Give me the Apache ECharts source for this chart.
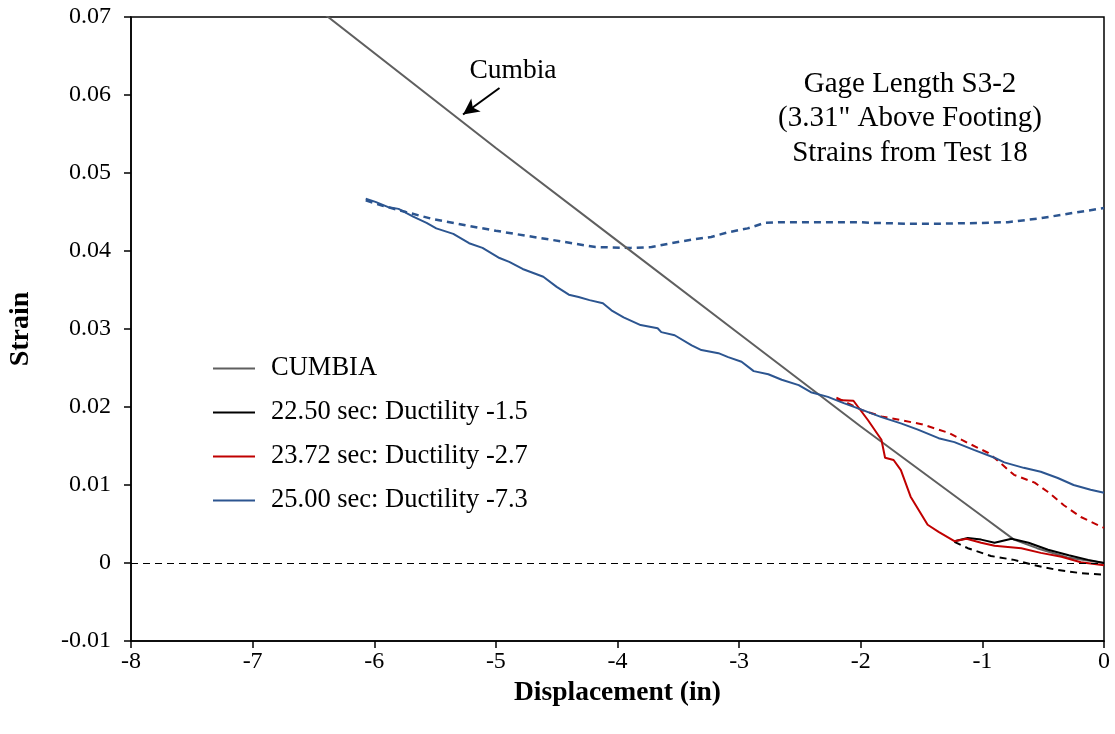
<!DOCTYPE html>
<html>
<head>
<meta charset="utf-8">
<script src="https://cdn.jsdelivr.net/npm/echarts@6/dist/echarts.min.js"></script>
<style>
html,body{margin:0;padding:0;background:#fff;}
#chart{width:1115px;height:734px;}
</style>
</head>
<body>
<div id="chart"></div>
<script>
// ---- data ----
const xTicks = [-8, -7, -6, -5, -4, -3, -2, -1, 0];
const yTicks = [-0.01, 0, 0.01, 0.02, 0.03, 0.04, 0.05, 0.06, 0.07];

const cumbia = [[-6.42,0.0705],[-5,0.0532],[-4,0.0413],[-3,0.0294],[-2,0.0175],[-1,0.0060],[-0.74,0.0030],[-0.55,0.0019],[-0.3,0.0007],[0,0]];

const black225Solid = [[-1.23,0.0028],[-1.12,0.0032],[-1.01,0.0030],[-0.90,0.0026],[-0.76,0.0031],[-0.62,0.0026],[-0.46,0.0017],[-0.29,0.0010],[-0.13,0.0004],[0,0.0000]];
const black225Dash = [[-1.23,0.0027],[-1.12,0.0019],[-0.93,0.0009],[-0.74,0.0004],[-0.57,-0.0003],[-0.38,-0.0009],[-0.19,-0.0013],[0,-0.0015]];

const red2372Solid = [[-2.20,0.0209],[-2.06,0.0208],[-1.94,0.0183],[-1.83,0.0158],[-1.80,0.0135],[-1.73,0.0132],[-1.67,0.0119],[-1.59,0.0085],[-1.45,0.0049],[-1.36,0.0040],[-1.23,0.0028],[-1.13,0.0031],[-1.01,0.0026],[-0.90,0.0022],[-0.68,0.0019],[-0.52,0.0013],[-0.35,0.0008],[-0.19,0.0001],[0,-0.0003]];
const red2372Dash = [[-2.20,0.0212],[-1.99,0.0196],[-1.83,0.0188],[-1.50,0.0178],[-1.28,0.0167],[-1.12,0.0154],[-0.95,0.0141],[-0.85,0.0128],[-0.74,0.0113],[-0.57,0.0103],[-0.46,0.0091],[-0.33,0.0074],[-0.19,0.0059],[0,0.0045]];

const blue2500Solid = [[-6.07,0.0467],[-5.99,0.0463],[-5.88,0.0456],[-5.80,0.0454],[-5.68,0.0444],[-5.57,0.0436],[-5.49,0.0429],[-5.35,0.0422],[-5.22,0.0410],[-5.11,0.0404],[-4.97,0.0391],[-4.89,0.0386],[-4.78,0.0377],[-4.61,0.0367],[-4.50,0.0354],[-4.40,0.0344],[-4.32,0.0341],[-4.23,0.0337],[-4.12,0.0333],[-4.05,0.0324],[-3.95,0.0315],[-3.81,0.0305],[-3.67,0.0301],[-3.64,0.0296],[-3.53,0.0292],[-3.39,0.0279],[-3.31,0.0273],[-3.17,0.0269],[-3.09,0.0264],[-2.98,0.0258],[-2.88,0.0246],[-2.76,0.0242],[-2.65,0.0235],[-2.51,0.0228],[-2.41,0.0219],[-2.27,0.0213],[-2.14,0.0205],[-2.00,0.0197],[-1.83,0.0187],[-1.67,0.0179],[-1.53,0.0171],[-1.36,0.0160],[-1.23,0.0155],[-1.07,0.0145],[-0.90,0.0135],[-0.82,0.0129],[-0.66,0.0122],[-0.52,0.0117],[-0.38,0.0109],[-0.25,0.0100],[-0.11,0.0094],[0,0.0090]];
const blue2500Dash = [[-6.07,0.0465],[-5.93,0.0458],[-5.74,0.0450],[-5.52,0.0441],[-5.25,0.0433],[-5.00,0.0426],[-4.73,0.0419],[-4.45,0.0412],[-4.18,0.0405],[-3.89,0.0404],[-3.72,0.0405],[-3.56,0.0410],[-3.37,0.0415],[-3.23,0.0418],[-3.09,0.0424],[-2.93,0.0429],[-2.79,0.0436],[-2.65,0.0437],[-2.43,0.0437],[-2.22,0.0437],[-2.02,0.0437],[-1.89,0.0436],[-1.61,0.0435],[-1.34,0.0435],[-1.01,0.0436],[-0.79,0.0437],[-0.52,0.0442],[-0.25,0.0449],[0,0.0455]];

const legendNames = ['CUMBIA','22.50 sec: Ductility -1.5','23.72 sec: Ductility -2.7','25.00 sec: Ductility -7.3'];
const noteLines = ['Gage Length S3-2','(3.31" Above Footing)','Strains from Test 18'];

// ---- chart ----
const FONT = '"Liberation Serif","Times New Roman",serif';
const GREY = '#5f5f5f', BLACK = '#000000', RED = '#C00000', BLUE = '#2C5590';
const chart = echarts.init(document.getElementById('chart'));

function line(name, data, color, dashed, width) {
  return {
    name: name, type: 'line', data: data, symbol: 'none', showSymbol: false, smooth: false,
    lineStyle: {color: color, width: width || 2, type: dashed ? [7, 5] : 'solid'},
    itemStyle: {color: color}, animation: false, z: dashed ? 2 : 3
  };
}

const series = [
  line(legendNames[0], cumbia, GREY, false, 2),
  line(legendNames[1], black225Solid, BLACK, false, 2),
  line(legendNames[2], red2372Solid, RED, false, 2),
  line(legendNames[3], blue2500Solid, BLUE, false, 2),
  line('black dashed', black225Dash, BLACK, true, 2),
  line('red dashed', red2372Dash, RED, true, 2),
  line('blue dashed', blue2500Dash, BLUE, true, 2.5)
];
// zero reference line and Cumbia arrow
series[0].markLine = {
  silent: true, symbol: ['none', 'none'], animation: false,
  label: {show: false},
  lineStyle: {color: '#000', type: [7, 5], width: 1},
  data: [
    {yAxis: 0},
    [{coord: [-4.97, 0.0609], symbol: 'none'}, {coord: [-5.27, 0.0575], symbol: 'arrow', symbolSize: [12, 16], lineStyle: {type: 'solid', width: 2, color: '#000'}}]
  ]
};

chart.setOption({
  animation: false,
  backgroundColor: '#fff',
  grid: {left: 131, right: 11, top: 17, bottom: 93, containLabel: false, outerBoundsMode: 'none',
    show: true, borderColor: '#000', borderWidth: 1.5, backgroundColor: 'transparent'},
  xAxis: {
    type: 'value', min: xTicks[0], max: xTicks[xTicks.length - 1], interval: 1,
    name: 'Displacement (in)', nameLocation: 'middle', nameGap: 34,
    nameTextStyle: {fontFamily: FONT, fontSize: 27.5, fontWeight: 'bold', color: '#000'},
    axisLine: {show: true, onZero: false, lineStyle: {color: '#000', width: 1.5}},
    axisTick: {show: true, inside: false, length: 7, lineStyle: {color: '#000', width: 1.5}},
    axisLabel: {fontFamily: FONT, fontSize: 24, color: '#000', margin: 9},
    splitLine: {show: false}
  },
  yAxis: {
    type: 'value', min: yTicks[0], max: yTicks[yTicks.length - 1], interval: 0.01,
    name: 'Strain', nameLocation: 'middle', nameGap: 96, nameRotate: 90,
    nameTextStyle: {fontFamily: FONT, fontSize: 28, fontWeight: 'bold', color: '#000'},
    axisLine: {show: true, onZero: false, lineStyle: {color: '#000', width: 1.5}},
    axisTick: {show: true, inside: false, length: 7, lineStyle: {color: '#000', width: 1.5}},
    axisLabel: {fontFamily: FONT, fontSize: 24, color: '#000', margin: 20,
      formatter: v => String(Math.round(v * 100) / 100)},
    splitLine: {show: false}
  },
  legend: {
    data: legendNames, orient: 'vertical', left: 213, top: 355, padding: 0,
    icon: 'rect', itemWidth: 42, itemHeight: 2, itemGap: 17,
    textStyle: {fontFamily: FONT, fontSize: 26.5, color: '#000', lineHeight: 27, padding: [0, 0, 0, 11]},
    selectedMode: false
  },
  graphic: [
    {type: 'text', x: 513, y: 71, style: {text: 'Cumbia', font: '27.5px ' + FONT, fill: '#000', align: 'center', verticalAlign: 'middle'}},
    {type: 'group', x: 910, y: 84, children: noteLines.map((t, i) => ({
      type: 'text', x: 0, y: i * 34.5, style: {text: t, font: '29px ' + FONT, fill: '#000', align: 'center', verticalAlign: 'middle'}
    }))}
  ],
  series: series
});
</script>
</body>
</html>
